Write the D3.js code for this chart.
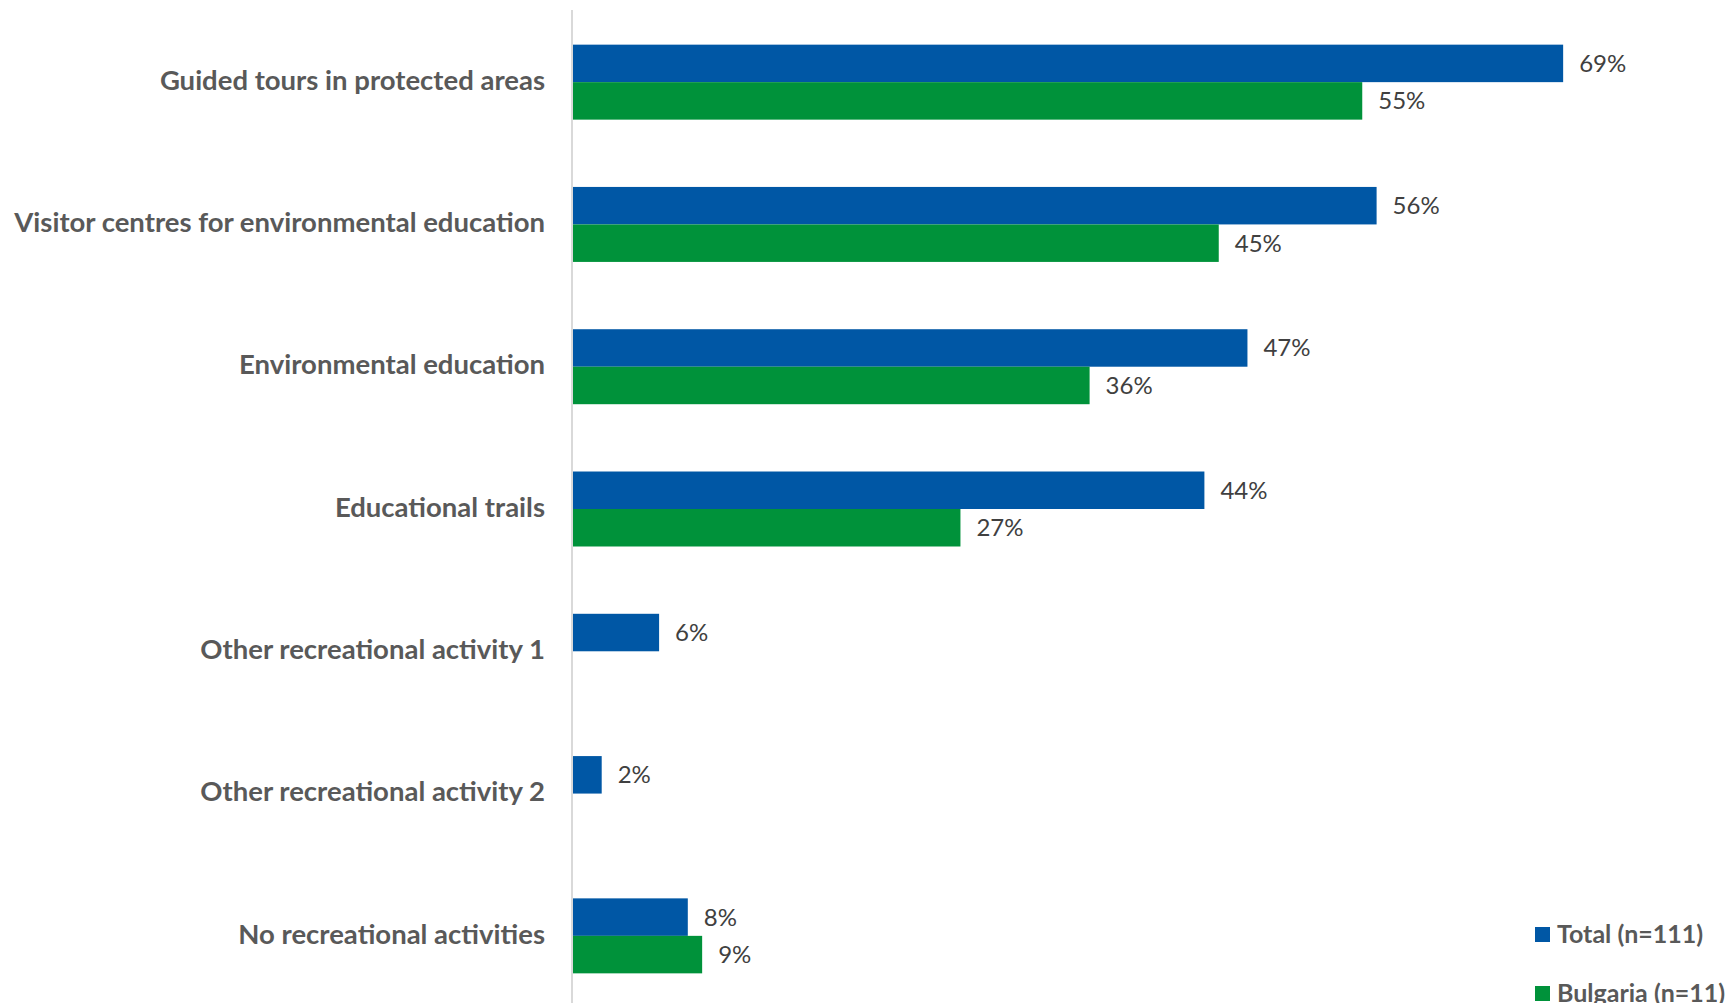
<!DOCTYPE html>
<html>
<head>
<meta charset="utf-8">
<script src="https://cdn.jsdelivr.net/npm/d3@7"></script>
<style>
  html, body { margin: 0; padding: 0; background: #fff; overflow: hidden; }
  svg { display: block; font-family: Lato, "Open Sans", sans-serif; }
</style>
</head>
<body>
<svg id="chart" width="1727" height="1003"></svg>
<script>
// Recreational activities offered, share of respondents (%)
const categories = [
  "Guided tours in protected areas",
  "Visitor centres for environmental education",
  "Environmental education",
  "Educational trails",
  "Other recreational activity 1",
  "Other recreational activity 2",
  "No recreational activities"
];
const seriesNames = ["Total (n=111)", "Bulgaria (n=11)"];
const totalValues = [69, 56, 47, 44, 6, 2, 8];
const bulgariaValues = [55, 45, 36, 27, null, null, 9];
const seriesColors = ["#0057A5", "#00923A"];

const svg = d3.select("#chart");
const W = 1727, H = 1003;

const axisX = 573;
const x = d3.scaleLinear().domain([0, 80]).range([axisX, axisX + 1148]);

const y = d3.scaleBand()
  .domain(categories)
  .range([11, 1007])
  .paddingInner(0.473)
  .paddingOuter(0.2365);

const ySub = d3.scaleBand().domain([0, 1]).range([0, y.bandwidth()]);

const rows = categories.map((c, i) => ({
  cat: c,
  vals: [totalValues[i], bulgariaValues[i]]
}));

// vertical category axis line
svg.append("line")
  .attr("x1", axisX - 1).attr("x2", axisX - 1)
  .attr("y1", 10).attr("y2", H)
  .attr("stroke", "#d9d9d9").attr("stroke-width", 2);

const groups = svg.selectAll("g.cat")
  .data(rows).join("g")
  .attr("class", "cat")
  .attr("transform", d => `translate(0,${y(d.cat)})`);

groups.selectAll("rect")
  .data(d => d.vals.map((v, s) => ({ v, s })).filter(e => e.v != null))
  .join("rect")
  .attr("x", x(0))
  .attr("y", e => ySub(e.s))
  .attr("width", e => x(e.v) - x(0))
  .attr("height", ySub.bandwidth())
  .attr("fill", e => seriesColors[e.s]);

groups.selectAll("text.val")
  .data(d => d.vals.map((v, s) => ({ v, s })).filter(e => e.v != null))
  .join("text")
  .attr("class", "val")
  .attr("x", e => x(e.v) + 16)
  .attr("y", e => ySub(e.s) + ySub.bandwidth() / 2)
  .attr("dy", "0.35em")
  .attr("fill", "#404040")
  .style("font-size", "24px")
  .text(e => e.v + "%");

// category labels
svg.selectAll("text.cat-label")
  .data(categories).join("text")
  .attr("class", "cat-label")
  .attr("x", 545)
  .attr("y", d => y(d) + y.bandwidth() / 2)
  .attr("dy", "0.28em")
  .attr("text-anchor", "end")
  .attr("fill", "#595959")
  .style("font-size", "27.5px")
  .style("font-weight", "bold")
  .text(d => d);

// legend
const legend = svg.append("g").attr("transform", "translate(1535,927)");
const li = legend.selectAll("g").data(seriesNames).join("g")
  .attr("transform", (d, i) => `translate(0,${i * 59})`);
li.append("rect").attr("width", 15).attr("height", 15)
  .attr("fill", (d, i) => seriesColors[i]);
li.append("text")
  .attr("x", 22).attr("y", 7.5).attr("dy", "0.35em")
  .attr("fill", "#595959")
  .style("font-size", "25px")
  .style("font-weight", "bold")
  .text(d => d);
</script>
</body>
</html>
